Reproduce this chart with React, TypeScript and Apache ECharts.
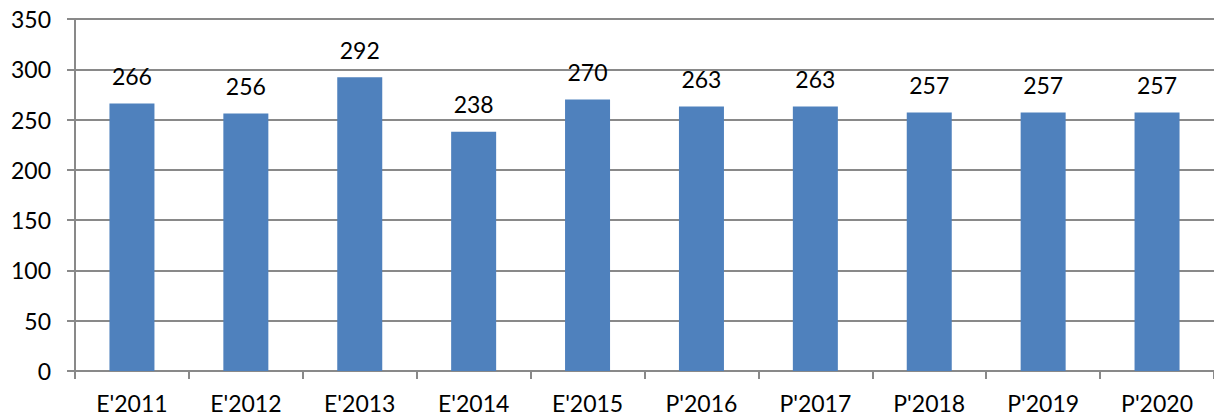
import React, { useEffect, useRef } from "react";
import * as echarts from "echarts";

const categories = ["E'2011", "E'2012", "E'2013", "E'2014", "E'2015", "P'2016", "P'2017", "P'2018", "P'2019", "P'2020"];
const values = [266, 256, 292, 238, 270, 263, 263, 257, 257, 257];

export default function App() {
  const ref = useRef<HTMLDivElement>(null);
  useEffect(() => {
    if (!ref.current) return;
    const chart = echarts.init(ref.current, null, { renderer: "svg" });
    const font = "Lato, 'Open Sans', sans-serif";
    chart.setOption({
      animation: false,
      grid: { left: 75, top: 19, width: 1142, height: 352, containLabel: false },
      xAxis: {
        type: "category",
        data: categories,
        boundaryGap: true,
        axisLine: { show: true, lineStyle: { color: "#898989", width: 2 } },
        axisTick: { show: true, alignWithLabel: false, length: 8, lineStyle: { color: "#898989", width: 2 } },
        axisLabel: { color: "#000", fontSize: 23, fontFamily: font, margin: 20 },
      },
      yAxis: {
        type: "value",
        min: 0,
        max: 350,
        interval: 50,
        axisLine: { show: true, lineStyle: { color: "#898989", width: 2 } },
        axisTick: { show: true, length: 8, lineStyle: { color: "#898989", width: 2 } },
        splitLine: { show: true, lineStyle: { color: "#898989", width: 2 } },
        axisLabel: { color: "#000", fontSize: 23, fontFamily: font, margin: 24 },
      },
      series: [
        {
          type: "bar",
          data: values,
          barWidth: 45,
          itemStyle: { color: "#4F81BD" },
          label: { show: true, position: "top", distance: 16, color: "#000", fontSize: 23, fontFamily: font },
        },
      ],
    });
    return () => chart.dispose();
  }, []);
  return <div ref={ref} style={{ width: 1214, height: 417, position: "absolute", left: 0, top: 0 }} />;
}
